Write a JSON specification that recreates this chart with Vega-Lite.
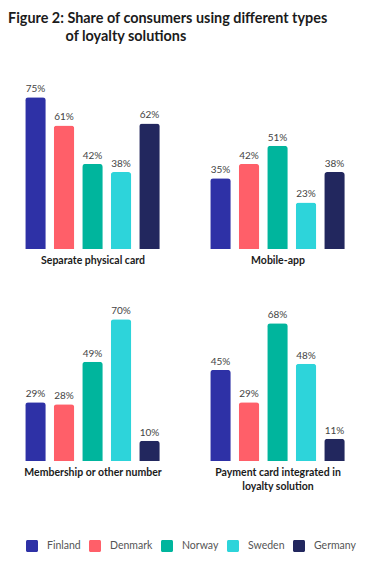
{
  "$schema": "https://vega.github.io/schema/vega-lite/v6.json",
  "background": "white",
  "padding": {"left": 8, "top": 10, "right": 4, "bottom": 5},
  "title": {
    "text": ["Figure 2: Share of consumers using different types", "\u200b\u2002\u2002\u2002\u2002\u2002\u2002\u2002\u2002of loyalty solutions"],
    "anchor": "start",
    "font": "Lato",
    "fontSize": 14.4,
    "fontWeight": "bold",
    "color": "#1b1b1b",
    "lineHeight": 18,
    "offset": 40
  },
  "data": {
    "values": [
      {"type": "Separate physical card", "country": "Finland", "value": 0.75},
      {"type": "Separate physical card", "country": "Denmark", "value": 0.61},
      {"type": "Separate physical card", "country": "Norway", "value": 0.42},
      {"type": "Separate physical card", "country": "Sweden", "value": 0.38},
      {"type": "Separate physical card", "country": "Germany", "value": 0.62},
      {"type": "Mobile-app", "country": "Finland", "value": 0.35},
      {"type": "Mobile-app", "country": "Denmark", "value": 0.42},
      {"type": "Mobile-app", "country": "Norway", "value": 0.51},
      {"type": "Mobile-app", "country": "Sweden", "value": 0.23},
      {"type": "Mobile-app", "country": "Germany", "value": 0.38},
      {"type": "Membership or other number", "country": "Finland", "value": 0.29},
      {"type": "Membership or other number", "country": "Denmark", "value": 0.28},
      {"type": "Membership or other number", "country": "Norway", "value": 0.49},
      {"type": "Membership or other number", "country": "Sweden", "value": 0.70},
      {"type": "Membership or other number", "country": "Germany", "value": 0.10},
      {"type": "Payment card integrated in loyalty solution", "country": "Finland", "value": 0.45},
      {"type": "Payment card integrated in loyalty solution", "country": "Denmark", "value": 0.29},
      {"type": "Payment card integrated in loyalty solution", "country": "Norway", "value": 0.68},
      {"type": "Payment card integrated in loyalty solution", "country": "Sweden", "value": 0.48},
      {"type": "Payment card integrated in loyalty solution", "country": "Germany", "value": 0.11}
    ]
  },
  "resolve": {"scale": {"color": "shared"}, "legend": {"color": "shared"}},
  "spacing": 33,
  "vconcat": [
    {
      "spacing": 16,
      "resolve": {"scale": {"color": "shared"}, "legend": {"color": "shared"}},
      "hconcat": [
        {
          "transform": [{"filter": "datum.type == 'Separate physical card'"}],
          "width": 169, "height": 162,
          "encoding": {
            "x": {"field": "country", "type": "nominal", "sort": ["Finland", "Denmark", "Norway", "Sweden", "Germany"], "scale": {"paddingInner": 0.28, "paddingOuter": 0.605}, "axis": {"title": "Separate physical card", "labels": false, "ticks": false, "domain": false, "titlePadding": 6}},
            "y": {"field": "value", "type": "quantitative", "scale": {"domain": [0, 0.8]}, "axis": null}
          },
          "layer": [
            {"mark": {"type": "bar", "cornerRadiusTopLeft": 3, "cornerRadiusTopRight": 3},
             "encoding": {"color": {"field": "country", "type": "nominal", "sort": ["Finland", "Denmark", "Norway", "Sweden", "Germany"], "scale": {"domain": ["Finland", "Denmark", "Norway", "Sweden", "Germany"], "range": ["#2e31a6", "#ff5f69", "#00b59d", "#2dd4da", "#22275e"]}, "legend": {"title": null}}}},
            {"mark": {"type": "text", "baseline": "alphabetic", "dy": -5, "font": "Lato", "fontSize": 10, "color": "#444"},
             "encoding": {"text": {"field": "value", "type": "quantitative", "format": ".0%"}}}
          ]
        },
        {
          "transform": [{"filter": "datum.type == 'Mobile-app'"}],
          "width": 169, "height": 162,
          "encoding": {
            "x": {"field": "country", "type": "nominal", "sort": ["Finland", "Denmark", "Norway", "Sweden", "Germany"], "scale": {"paddingInner": 0.28, "paddingOuter": 0.605}, "axis": {"title": "Mobile-app", "labels": false, "ticks": false, "domain": false, "titlePadding": 6}},
            "y": {"field": "value", "type": "quantitative", "scale": {"domain": [0, 0.8]}, "axis": null}
          },
          "layer": [
            {"mark": {"type": "bar", "cornerRadiusTopLeft": 3, "cornerRadiusTopRight": 3},
             "encoding": {"color": {"field": "country", "type": "nominal", "sort": ["Finland", "Denmark", "Norway", "Sweden", "Germany"], "scale": {"domain": ["Finland", "Denmark", "Norway", "Sweden", "Germany"], "range": ["#2e31a6", "#ff5f69", "#00b59d", "#2dd4da", "#22275e"]}, "legend": {"title": null}}}},
            {"mark": {"type": "text", "baseline": "alphabetic", "dy": -5, "font": "Lato", "fontSize": 10, "color": "#444"},
             "encoding": {"text": {"field": "value", "type": "quantitative", "format": ".0%"}}}
          ]
        }
      ]
    },
    {
      "spacing": 16,
      "resolve": {"scale": {"color": "shared"}, "legend": {"color": "shared"}},
      "hconcat": [
        {
          "transform": [{"filter": "datum.type == 'Membership or other number'"}],
          "width": 169, "height": 162,
          "encoding": {
            "x": {"field": "country", "type": "nominal", "sort": ["Finland", "Denmark", "Norway", "Sweden", "Germany"], "scale": {"paddingInner": 0.28, "paddingOuter": 0.605}, "axis": {"title": "Membership or other number", "labels": false, "ticks": false, "domain": false, "titlePadding": 6}},
            "y": {"field": "value", "type": "quantitative", "scale": {"domain": [0, 0.8]}, "axis": null}
          },
          "layer": [
            {"mark": {"type": "bar", "cornerRadiusTopLeft": 3, "cornerRadiusTopRight": 3},
             "encoding": {"color": {"field": "country", "type": "nominal", "sort": ["Finland", "Denmark", "Norway", "Sweden", "Germany"], "scale": {"domain": ["Finland", "Denmark", "Norway", "Sweden", "Germany"], "range": ["#2e31a6", "#ff5f69", "#00b59d", "#2dd4da", "#22275e"]}, "legend": {"title": null}}}},
            {"mark": {"type": "text", "baseline": "alphabetic", "dy": -5, "font": "Lato", "fontSize": 10, "color": "#444"},
             "encoding": {"text": {"field": "value", "type": "quantitative", "format": ".0%"}}}
          ]
        },
        {
          "transform": [{"filter": "datum.type == 'Payment card integrated in loyalty solution'"}],
          "width": 169, "height": 162,
          "encoding": {
            "x": {"field": "country", "type": "nominal", "sort": ["Finland", "Denmark", "Norway", "Sweden", "Germany"], "scale": {"paddingInner": 0.28, "paddingOuter": 0.605}, "axis": {"title": ["Payment card integrated in", "loyalty solution"], "labels": false, "ticks": false, "domain": false, "titlePadding": 6}},
            "y": {"field": "value", "type": "quantitative", "scale": {"domain": [0, 0.8]}, "axis": null}
          },
          "layer": [
            {"mark": {"type": "bar", "cornerRadiusTopLeft": 3, "cornerRadiusTopRight": 3},
             "encoding": {"color": {"field": "country", "type": "nominal", "sort": ["Finland", "Denmark", "Norway", "Sweden", "Germany"], "scale": {"domain": ["Finland", "Denmark", "Norway", "Sweden", "Germany"], "range": ["#2e31a6", "#ff5f69", "#00b59d", "#2dd4da", "#22275e"]}, "legend": {"title": null}}}},
            {"mark": {"type": "text", "baseline": "alphabetic", "dy": -5, "font": "Lato", "fontSize": 10, "color": "#444"},
             "encoding": {"text": {"field": "value", "type": "quantitative", "format": ".0%"}}}
          ]
        }
      ]
    }
  ],
  "config": {
    "view": {"stroke": null},
    "axis": {"titleFont": "Lato", "titleFontSize": 10.5, "titleFontWeight": "bold", "titleColor": "#1b1b1b", "titleLineHeight": 14},
    "legend": {
      "orient": "bottom",
      "direction": "horizontal",
      "symbolType": "M-0.75,-1 H0.75 A0.25,0.25 0 0 1 1,-0.75 V0.75 A0.25,0.25 0 0 1 0.75,1 H-0.75 A0.25,0.25 0 0 1 -1,0.75 V-0.75 A0.25,0.25 0 0 1 -0.75,-1 Z",
      "symbolSize": 144,
      "symbolStrokeWidth": 0,
      "labelFont": "Lato",
      "labelFontSize": 10.5,
      "labelColor": "#555",
      "labelOffset": 9,
      "columnPadding": 8,
      "padding": 18,
      "offset": 30
    }
  }
}
